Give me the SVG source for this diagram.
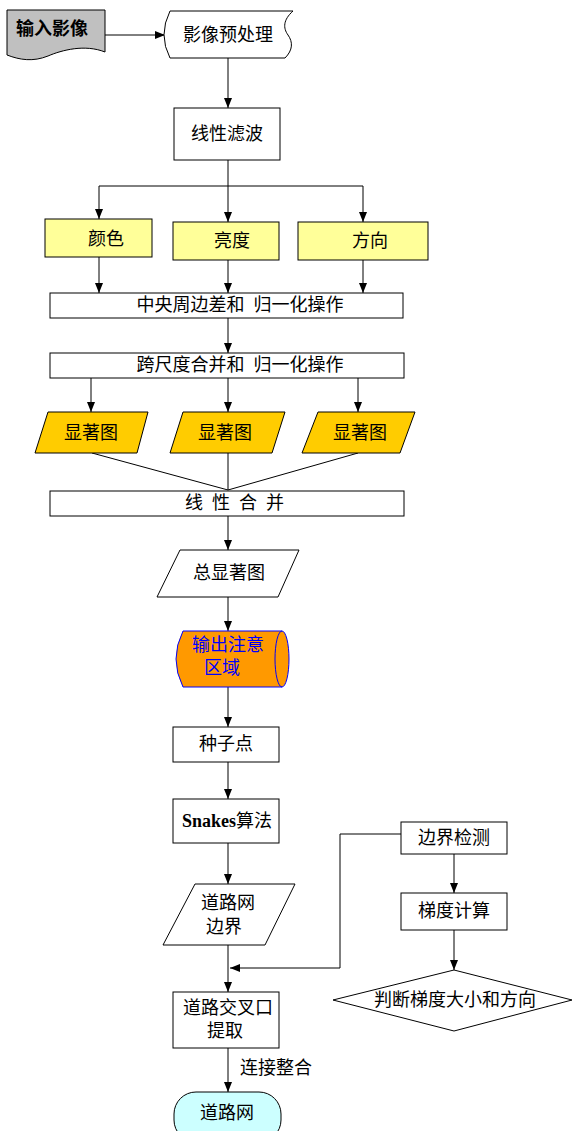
<svg xmlns="http://www.w3.org/2000/svg" width="572" height="1131" viewBox="0 0 572 1131">
<defs>
<marker id="ah" markerWidth="10" markerHeight="8" refX="10" refY="4" orient="auto" markerUnits="userSpaceOnUse">
<path d="M0,0 L10,4 L0,8 Z" fill="#000"/>
</marker>
<style>
.n{stroke:#000;stroke-width:1;fill:#fff}
.y{fill:#ffff99}
.g{fill:#ffcc00}
.t{font-family:"Liberation Serif","Noto Sans CJK SC",serif;font-size:18px;fill:#000;text-anchor:middle;dominant-baseline:central}
.c{stroke:#000;stroke-width:1;fill:none}
.a{marker-end:url(#ah)}
</style>
</defs>
<rect width="572" height="1131" fill="#fff"/>
<g id="connectors">
<path class="c a" d="M105,35 H165"/>
<path class="c a" d="M228,58 V108"/>
<path class="c" d="M228,160 V186 M99,186 H363"/>
<path class="c a" d="M99,186 V219"/>
<path class="c a" d="M228,186 V222"/>
<path class="c a" d="M363,186 V222"/>
<path class="c a" d="M99,257 V293"/>
<path class="c a" d="M228,260 V293"/>
<path class="c a" d="M363,260 V293"/>
<path class="c a" d="M228,318 V353"/>
<path class="c a" d="M91,378 V412"/>
<path class="c a" d="M228,378 V412"/>
<path class="c a" d="M358,378 V412"/>
<path class="c" d="M92,453 L228,490 M228,453 V490 M358,453 L228,490"/>
<path class="c a" d="M228,516 V550"/>
<path class="c a" d="M228,597 V631"/>
<path class="c a" d="M228,687 V727"/>
<path class="c a" d="M228,762 V799"/>
<path class="c a" d="M228,843 V884"/>
<path class="c a" d="M228,945 V992"/>
<path class="c a" d="M401,834 H340 V968 H230"/>
<path class="c a" d="M454,854 V893"/>
<path class="c a" d="M454,930 V970"/>
<path class="c a" d="M228,1048 V1092"/>
<text class="t" x="276" y="1068">连接整合</text>
</g>
<g id="input">
<path class="n" style="fill:#c0c0c0" d="M7,10 H105 V52 C85,44 62,50 48,56 C33,62 20,60 7,55 Z"/>
<text class="t" x="52" y="29" style="font-weight:bold">输入影像</text>
</g>
<g id="preprocess">
<path class="n" d="M170,11 H293 C283,20 283,28 288,35 C293,42 293,50 285,58 H170 Q158,35 170,11 Z"/>
<text class="t" x="228" y="35">影像预处理</text>
</g>
<g id="filter">
<rect class="n" x="174" y="108" width="106" height="52"/>
<text class="t" x="227" y="134">线性滤波</text>
</g>
<g id="color">
<rect class="n y" x="45" y="219" width="107" height="38"/>
<text class="t" x="106" y="239">颜色</text>
</g>
<g id="brightness">
<rect class="n y" x="173" y="222" width="106" height="38"/>
<text class="t" x="232" y="241">亮度</text>
</g>
<g id="direction">
<rect class="n y" x="298" y="222" width="130" height="38"/>
<text class="t" x="370" y="241">方向</text>
</g>
<g id="centersurround">
<rect class="n" x="50" y="293" width="353" height="25"/>
<text class="t" x="240" y="305">中央周边差和<tspan dx="9">归一化操作</tspan></text>
</g>
<g id="crossscale">
<rect class="n" x="50" y="353" width="354" height="25"/>
<text class="t" x="240" y="365">跨尺度合并和<tspan dx="9">归一化操作</tspan></text>
</g>
<g id="sal1">
<path class="n g" d="M48,412 H148 L137,453 H35 Z"/>
<text class="t" x="91" y="433">显著图</text>
</g>
<g id="sal2">
<path class="n g" d="M183,412 H285 L272,453 H170 Z"/>
<text class="t" x="225" y="433">显著图</text>
</g>
<g id="sal3">
<path class="n g" d="M318,412 H415 L400,453 H302 Z"/>
<text class="t" x="360" y="433">显著图</text>
</g>
<g id="linearmerge">
<rect class="n" x="50" y="491" width="354" height="25"/>
<text class="t" x="239" y="503" style="letter-spacing:9px">线性合并</text>
</g>
<g id="totalsal">
<path class="n" d="M180,550 H299 L278,597 H157 Z"/>
<text class="t" x="229" y="573">总显著图</text>
</g>
<g id="attention">
<path class="n" style="fill:#ff9900;stroke:#0000ff" d="M183,631 H282 A7,28 0 0 1 282,687 H183 Q169,659 183,631 Z"/>
<path style="fill:none;stroke:#0000ff" d="M282,631 A7,28 0 0 0 282,687"/>
<text class="t" style="fill:#0000ff" x="228" y="645">输出注意</text>
<text class="t" style="fill:#0000ff" x="222" y="668">区域</text>
</g>
<g id="seed">
<rect class="n" x="173" y="727" width="106" height="35"/>
<text class="t" x="226" y="744">种子点</text>
</g>
<g id="snakes">
<rect class="n" x="173" y="799" width="106" height="44"/>
<text class="t" x="227" y="821"><tspan style="font-weight:bold">Snakes</tspan>算法</text>
</g>
<g id="boundary">
<path class="n" d="M195,884 H295 L265,945 H163 Z"/>
<text class="t" x="228" y="903">道路网</text>
<text class="t" x="224" y="927">边界</text>
</g>
<g id="edgedetect">
<rect class="n" x="401" y="822" width="106" height="32"/>
<text class="t" x="454" y="838">边界检测</text>
</g>
<g id="gradient">
<rect class="n" x="401" y="893" width="106" height="37"/>
<text class="t" x="454" y="911">梯度计算</text>
</g>
<g id="judge">
<path class="n" d="M454,970 L572,1000 L454,1031 L333,1000 Z"/>
<text class="t" x="455" y="1000">判断梯度大小和方向</text>
</g>
<g id="junction">
<rect class="n" x="173" y="992" width="106" height="56"/>
<text class="t" x="228" y="1008">道路交叉口</text>
<text class="t" x="225" y="1031">提取</text>
</g>
<g id="roadnet">
<rect class="n" style="fill:#ccffff" x="174" y="1092" width="107" height="50" rx="22" ry="22"/>
<text class="t" x="227" y="1113">道路网</text>
</g>
</svg>
